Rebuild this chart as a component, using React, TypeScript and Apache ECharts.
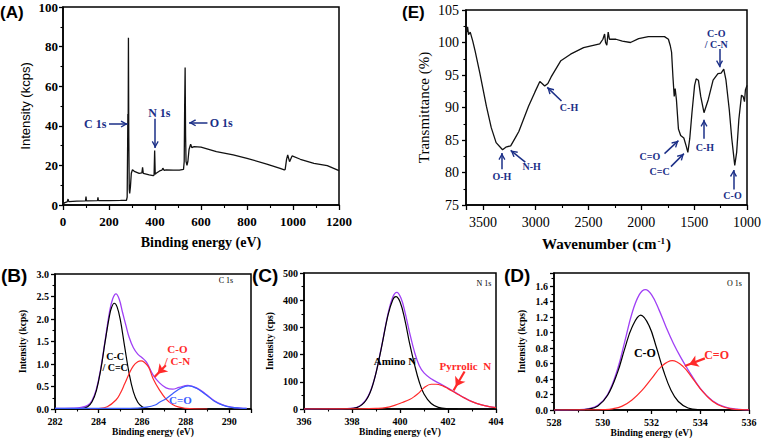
import React, { useEffect, useRef } from "react";
import * as echarts from "echarts";

// ---------- data ----------
// (A) XPS survey: [binding energy eV, intensity kcps]
const surveyXps: [number, number][] = [
  [0, 0.5], [8, 1.2], [18, 1.6], [22, 3], [25, 1.7], [60, 2], [98, 2.1], [100, 4.3], [102, 2.1],
  [150, 2.2], [152, 3.9], [154, 2.2], [200, 2.2], [250, 2.3], [276, 2.4], [279, 4], [281, 30],
  [282, 46], [283, 28], [284.5, 84.5], [286, 35], [288, 8], [290, 5.8], [293, 9], [297, 16],
  [302, 17.8], [310, 17], [331, 16], [343, 16.2], [346, 19], [349, 16], [375, 15.2], [392, 14.8],
  [396, 15.2], [398.5, 27.5], [401, 15.5], [405, 16], [420, 17.2], [430, 17.6], [434, 18.6],
  [440, 17.5], [448, 17.7], [480, 17.6], [506, 17.6], [524, 18], [527, 22], [529, 50], [531, 69.5],
  [533, 35], [535, 22], [539, 20], [543, 22], [548, 28], [555, 30.7], [560, 29], [570, 29.5],
  [600, 29.2], [667, 27], [740, 25.3], [800, 23.6], [886, 20.7], [944, 18.5], [962, 17.7],
  [966, 18], [972, 23], [977, 25.3], [985, 21.9], [996, 24.8], [1032, 23.1], [1091, 21],
  [1149, 19.9], [1200, 17.4],
];

// (E) FTIR: [wavenumber cm-1, transmittance %]
const ftir: [number, number][] = [
  [3660, 103], [3652, 101.6], [3645, 102.4], [3636, 101.2], [3620, 101.6], [3596, 100.2],
  [3574, 98.7], [3528, 95.2], [3467, 90.2], [3421, 86.9], [3375, 84.6], [3314, 83.5],
  [3283, 83.9], [3237, 84.1], [3191, 85.4], [3160, 86.3], [3068, 90.2], [3007, 92.4],
  [2961, 94], [2940, 93.7], [2915, 93.3], [2885, 93.7], [2854, 94.7], [2762, 97.2],
  [2670, 98.2], [2547, 99.2], [2394, 99.8], [2364, 100.5], [2348, 101.3], [2339, 100],
  [2327, 99.6], [2314, 101.6], [2302, 100.5], [2241, 100.5], [2180, 100.2], [2103, 100],
  [2026, 100.6], [1934, 100.9], [1781, 100.9], [1744, 100.5], [1726, 99.5], [1714, 98.5],
  [1701, 94.7], [1689, 91.7], [1680, 92.9], [1668, 91.2], [1649, 86.7], [1628, 85.7],
  [1598, 85.3], [1576, 84.1], [1560, 83.1], [1542, 85.2], [1521, 89.2], [1496, 93.4],
  [1481, 94.4], [1460, 94.2], [1438, 91.7], [1407, 89.2], [1367, 91.2], [1321, 94.2],
  [1275, 95.2], [1245, 95.3], [1220, 95.9], [1199, 94.2], [1168, 89.7], [1144, 85.2],
  [1116, 81.1], [1098, 83.1], [1077, 88.2], [1052, 91.9], [1037, 91.7], [1024, 90.9],
  [1015, 92.7], [1000, 93.4],
];

// (B) C 1s
const c1sEnvelope: [number, number][] = [
  [282, 0.015], [282.8, 0.02], [283.2, 0.035], [283.5, 0.08], [283.7, 0.19], [283.9, 0.44],
  [284.1, 0.9], [284.3, 1.52], [284.5, 2.15], [284.65, 2.45], [284.8, 2.56], [284.95, 2.44],
  [285.1, 2.15], [285.25, 1.87], [285.4, 1.6], [285.6, 1.36], [285.8, 1.22], [286.0, 1.14],
  [286.2, 1.04], [286.5, 0.76], [286.8, 0.58], [287.1, 0.47], [287.4, 0.44], [287.7, 0.48],
  [288.1, 0.525], [288.5, 0.47], [288.9, 0.34], [289.3, 0.19], [289.7, 0.09], [290.1, 0.04],
  [290.5, 0.02], [290.8, 0.015],
];
const c1sCC: [number, number][] = [
  [282, 0], [283.2, 0.006], [283.5, 0.05], [283.7, 0.16], [283.9, 0.41], [284.1, 0.87],
  [284.3, 1.49], [284.5, 2.07], [284.6, 2.26], [284.72, 2.35], [284.85, 2.27], [285.0, 1.98],
  [285.2, 1.38], [285.4, 0.8], [285.6, 0.38], [285.8, 0.15], [286.0, 0.05], [286.2, 0.012],
  [286.5, 0.002], [287, 0],
];
const c1sCO: [number, number][] = [
  [283.6, 0.002], [284.0, 0.01], [284.4, 0.05], [284.8, 0.2], [285.0, 0.35], [285.2, 0.56],
  [285.4, 0.78], [285.6, 0.96], [285.8, 1.05], [285.95, 1.07], [286.1, 1.04], [286.3, 0.93],
  [286.5, 0.68], [286.8, 0.42], [287.1, 0.22], [287.4, 0.1], [287.7, 0.04], [288.0, 0.015],
  [288.4, 0.003], [289, 0],
];
const c1sCdO: [number, number][] = [
  [282, 0.015], [285.0, 0.015], [285.8, 0.021], [286.2, 0.04], [286.6, 0.09], [286.8, 0.15],
  [287.1, 0.23], [287.4, 0.34], [287.8, 0.47], [288.13, 0.515], [288.5, 0.46], [288.9, 0.33],
  [289.3, 0.18], [289.7, 0.085], [290.1, 0.037], [290.5, 0.02], [290.8, 0.015],
];

// (C) N 1s
const n1sEnvelope: [number, number][] = [
  [396, 0], [397.2, 0.3], [397.8, 1.5], [398.2, 6], [398.6, 36], [398.9, 100], [399.2, 216],
  [399.5, 350], [399.7, 412], [399.87, 429], [400.05, 405], [400.2, 359], [400.4, 281],
  [400.6, 211], [400.8, 160], [401.0, 133], [401.3, 111], [401.6, 96], [401.9, 82],
  [402.3, 61], [402.7, 40], [403.0, 27], [403.4, 15], [403.7, 9], [404, 5],
];
const n1sAmino: [number, number][] = [
  [396, 0], [397.2, 0], [397.8, 0.5], [398.2, 5], [398.6, 34], [398.9, 99], [399.2, 214],
  [399.5, 345], [399.7, 402], [399.83, 413], [400.0, 394], [400.2, 329], [400.4, 241],
  [400.6, 165], [400.8, 100], [401.0, 55], [401.3, 20], [401.6, 6], [402.0, 1], [402.4, 0],
];
const n1sPyrrolic: [number, number][] = [
  [396, 0], [398.4, 0.5], [399.0, 2], [399.4, 5], [399.8, 14], [400.1, 24], [400.4, 35],
  [400.6, 46], [400.8, 60], [401.0, 78], [401.3, 91], [401.5, 91], [401.8, 84], [402.0, 75],
  [402.3, 60], [402.7, 40], [403.0, 27], [403.4, 15], [403.7, 9], [404, 5],
];

// (D) O 1s
const o1sEnvelope: [number, number][] = [
  [528, 0], [529, 0.003], [529.4, 0.015], [529.8, 0.06], [530.2, 0.2], [530.6, 0.52],
  [530.9, 0.88], [531.2, 1.25], [531.5, 1.49], [531.75, 1.555], [532.0, 1.49], [532.3, 1.3],
  [532.6, 1.07], [532.9, 0.86], [533.2, 0.68], [533.5, 0.52], [534.0, 0.28], [534.5, 0.12],
  [535.0, 0.04], [535.5, 0.01], [536, 0.002],
];
const o1sCO: [number, number][] = [
  [528, 0], [529, 0.002], [529.4, 0.011], [529.8, 0.052], [530.2, 0.19], [530.6, 0.48],
  [530.9, 0.79], [531.2, 1.07], [531.56, 1.226], [531.9, 1.09], [532.2, 0.81], [532.5, 0.5],
  [532.8, 0.255], [533.1, 0.11], [533.5, 0.026], [534.0, 0.003], [534.4, 0],
];
const o1sCdO: [number, number][] = [
  [528, 0], [529.6, 0.001], [530.0, 0.004], [530.4, 0.015], [530.8, 0.05], [531.2, 0.13],
  [531.6, 0.25], [532.0, 0.405], [532.4, 0.56], [532.85, 0.637], [533.3, 0.561],
  [533.7, 0.403], [534.1, 0.237], [534.5, 0.114], [534.9, 0.045], [535.3, 0.014],
  [535.7, 0.004], [536, 0.001],
];

// axis ranges / tick steps: [min, max, interval]
const axA_x = [0, 1200, 200];
const axA_y = [0, 100, 20];
const axE_x = [1000, 3660, 500];
const axE_y = [75, 105, 5];
const axB_x = [282, 291, 2];
const axB_y = [0, 3, 0.5];
const axC_x = [396, 404, 2];
const axC_y = [0, 500, 100];
const axD_x = [528, 536, 2];
const axD_y = [0, 1.77, 0.2];

// ---------- styling ----------
const SERIF = "Liberation Serif";
const SANS = "Liberation Sans";
const NAVY = "#1b2f87";
const PURPLE = "#a040f5";
const RED = "#ff2a2a";
const BLUE = "#3a5cff";
const OPEN_HEAD = "path://M0,0L5,8.5L3.4,9.6L0,3.6L-3.4,9.6L-5,8.5Z";

const plain = (v: number) => String(v);
const fmt1 = (v: number) => v.toFixed(1);

function xAxis(gi: number, r: number[], o: any = {}) {
  return {
    type: "value", gridIndex: gi, min: r[0], max: r[1], interval: r[2],
    inverse: !!o.inverse,
    name: o.name, nameLocation: "middle", nameGap: o.nameGap,
    nameTextStyle: o.nameStyle,
    axisLine: { show: true, onZero: false, lineStyle: { color: "#000", width: 1.5 } },
    axisTick: { show: true, inside: false, length: o.tick ?? 5, lineStyle: { color: "#000", width: 1.3 } },
    minorTick: { show: true, splitNumber: 2, length: o.minor ?? 3, lineStyle: { color: "#000", width: 1.1 } },
    splitLine: { show: false }, minorSplitLine: { show: false },
    axisLabel: {
      color: "#000", fontFamily: SERIF, fontSize: o.fs, fontWeight: o.fw ?? "bold",
      margin: o.margin, showMaxLabel: o.showMax, formatter: o.fmt ?? plain,
    },
  };
}
function yAxis(gi: number, r: number[], o: any = {}) {
  return {
    type: "value", gridIndex: gi, min: r[0], max: r[1], interval: r[2],
    name: o.name, nameLocation: "middle", nameGap: o.nameGap, nameRotate: 90,
    nameTextStyle: o.nameStyle,
    axisLine: { show: true, onZero: false, lineStyle: { color: "#000", width: 1.5 } },
    axisTick: { show: true, inside: false, length: o.tick ?? 4, lineStyle: { color: "#000", width: 1.3 } },
    minorTick: { show: true, splitNumber: 2, length: o.minor ?? 2.5, lineStyle: { color: "#000", width: 1.1 } },
    splitLine: { show: false }, minorSplitLine: { show: false },
    axisLabel: {
      color: "#000", fontFamily: SERIF, fontSize: o.fs, fontWeight: o.fw ?? "bold",
      margin: o.margin, showMaxLabel: o.showMax, formatter: o.fmt ?? plain,
    },
  };
}

function note(x: number, y: number, text: string, color: string, size: number, weight = "bold", family = SERIF) {
  return {
    coord: [x, y], symbol: "circle", symbolSize: 0, itemStyle: { color: "transparent" },
    label: {
      show: true, position: "inside", formatter: text, color, fontSize: size,
      fontWeight: weight, fontFamily: family, lineHeight: size + 1,
    },
  };
}
function arrow(x1: number, y1: number, x2: number, y2: number, color: string, width = 1.5, head = OPEN_HEAD, size = 7) {
  const ls = { color, width, type: "solid" };
  return [
    { coord: [x1, y1], symbol: "none", lineStyle: ls },
    { coord: [x2, y2], symbol: head, symbolSize: [size, size], symbolOffset: [0, size / 2], lineStyle: ls },
  ];
}

function line(data: [number, number][], ai: number, color: string, width: number, extra: any = {}) {
  return {
    type: "line", data, xAxisIndex: ai, yAxisIndex: ai, symbol: "none", showSymbol: false,
    smooth: extra.smooth ?? false, silent: true, animation: false,
    lineStyle: { color, width }, itemStyle: { color },
    markPoint: extra.notes ? { silent: true, animation: false, data: extra.notes } : undefined,
    markLine: extra.arrows
      ? { silent: true, animation: false, symbol: ["none", "arrow"], label: { show: false }, emphasis: { disabled: true }, data: extra.arrows }
      : undefined,
  };
}

export default function App() {
  const ref = useRef<HTMLDivElement>(null);
  useEffect(() => {
    if (!ref.current) return;
    const chart = echarts.init(ref.current, undefined, { renderer: "svg" });
    const gridStyle = { show: true, borderColor: "#000", borderWidth: 1.5, backgroundColor: "transparent", containLabel: false };
    const smallTitle = { fontFamily: SERIF, fontSize: 9.5, fontWeight: "bold", color: "#000" };
    chart.setOption({
      animation: false,
      backgroundColor: "#fff",
      textStyle: { fontFamily: SERIF },
      grid: [
        { left: 63, top: 7, width: 276, height: 198, ...gridStyle },
        { left: 466, top: 10, width: 281, height: 195, ...gridStyle },
        { left: 55, top: 274, width: 196, height: 135, ...gridStyle },
        { left: 304, top: 273, width: 192, height: 136, ...gridStyle },
        { left: 554, top: 273, width: 195, height: 137, ...gridStyle },
      ],
      xAxis: [
        xAxis(0, axA_x, { fs: 13, margin: 10, name: "Binding energy (eV)", nameGap: 30, nameStyle: { fontFamily: SERIF, fontSize: 14, fontWeight: "bold", color: "#000" } }),
        xAxis(1, axE_x, {
          inverse: true, fs: 14, fw: "normal", margin: 10, showMax: false,
          name: "Wavenumber (cm{sup|-1})", nameGap: 31,
          nameStyle: { fontFamily: SERIF, fontSize: 15, fontWeight: "bold", color: "#000", rich: { sup: { fontFamily: SERIF, fontSize: 9, fontWeight: "bold", verticalAlign: "top", padding: [0, 1, 7, 1] } } },
        }),
        xAxis(2, axB_x, { fs: 10, margin: 7, showMax: false, tick: 4, minor: 2.5, name: "Binding energy (eV)", nameGap: 18, nameStyle: smallTitle }),
        xAxis(3, axC_x, { fs: 10, margin: 7, tick: 4, minor: 2.5, name: "Binding energy (eV)", nameGap: 18, nameStyle: smallTitle }),
        xAxis(4, axD_x, { fs: 10, margin: 7, tick: 4, minor: 2.5, name: "Binding energy (eV)", nameGap: 18, nameStyle: smallTitle }),
      ],
      yAxis: [
        yAxis(0, axA_y, { fs: 13, margin: 5, name: "Intensity (kcps)", nameGap: 31, nameStyle: { fontFamily: SANS, fontSize: 13, color: "#000" } }),
        yAxis(1, axE_y, { fs: 14, fw: "normal", margin: 7, name: "Transmittance (%)", nameGap: 35, nameStyle: { fontFamily: SERIF, fontSize: 15, color: "#000" } }),
        yAxis(2, axB_y, { fs: 10, margin: 6, fmt: fmt1, name: "Intensity (kcps)", nameGap: 27, nameStyle: smallTitle }),
        yAxis(3, axC_y, { fs: 10, margin: 6, name: "Intensity (cps)", nameGap: 29, nameStyle: smallTitle }),
        yAxis(4, axD_y, { fs: 10, margin: 6, fmt: fmt1, showMax: false, name: "Intensity (kcps)", nameGap: 27, nameStyle: smallTitle }),
      ],
      graphic: [
        { type: "text", left: 0, top: 4, style: { text: "(A)", fontFamily: SANS, fontSize: 17, fontWeight: "bold", fill: "#000" } },
        { type: "text", left: 402, top: 4, style: { text: "(E)", fontFamily: SANS, fontSize: 17, fontWeight: "bold", fill: "#000" } },
        { type: "text", left: 1, top: 266, style: { text: "(B)", fontFamily: SANS, fontSize: 19, fontWeight: "bold", fill: "#000" } },
        { type: "text", left: 252, top: 266, style: { text: "(C)", fontFamily: SANS, fontSize: 19, fontWeight: "bold", fill: "#000" } },
        { type: "text", left: 504, top: 266, style: { text: "(D)", fontFamily: SANS, fontSize: 19, fontWeight: "bold", fill: "#000" } },
      ],
      series: [
        line(surveyXps, 0, "#111", 1.3, {
          notes: [
            note(140, 40.9, "C 1s", NAVY, 12),
            note(419, 46.5, "N 1s", NAVY, 12),
            note(688, 41.5, "O 1s", NAVY, 12),
          ],
          arrows: [
            arrow(200, 40.9, 281, 40.9, NAVY),
            arrow(401, 43.5, 401, 28.8, NAVY),
            arrow(628, 41.5, 548, 41.5, NAVY),
          ],
        }),
        line(ftir, 1, "#111", 1.3, {
          notes: [
            note(3320, 79.4, "O-H", NAVY, 10),
            note(3038, 80.9, "N-H", NAVY, 10),
            note(2685, 90.0, "C-H", NAVY, 10),
            note(1919, 82.5, "C=O", NAVY, 10),
            note(1827, 80.1, "C=C", NAVY, 10),
            note(1398, 83.9, "C-H", NAVY, 10),
            note(1137, 76.4, "C-O", NAVY, 10),
            note(1291, 100.6, "C-O\n/ C-N", NAVY, 10),
          ],
          arrows: [
            arrow(3320, 80.5, 3320, 83.0, NAVY),
            arrow(3099, 81.6, 3237, 83.4, NAVY),
            arrow(2756, 91.0, 2891, 93.1, NAVY),
            arrow(1781, 82.9, 1649, 84.9, NAVY),
            arrow(1720, 80.9, 1597, 82.9, NAVY),
            arrow(1407, 85.2, 1407, 88.1, NAVY),
            arrow(1128, 77.4, 1128, 80.4, NAVY),
            arrow(1260, 99.0, 1260, 96.2, NAVY),
          ],
        }),
        line(c1sEnvelope, 2, PURPLE, 1.3, {
          smooth: 0.4,
          notes: [
            note(284.76, 1.05, "C-C\n/ C=C", "#000", 10),
            note(287.62, 1.21, "C-O\n/ C-N", RED, 11),
            note(287.76, 0.21, "C=O", BLUE, 11),
            note(289.85, 2.86, "C 1s", "#000", 8, "normal"),
          ],
          arrows: [arrow(287.09, 0.97, 286.57, 0.71, RED, 2.2, "arrow", 9)],
        }),
        line(c1sCC, 2, "#000", 1.2, { smooth: 0.4 }),
        line(c1sCO, 2, RED, 1.2, { smooth: 0.4 }),
        line(c1sCdO, 2, BLUE, 1.2, { smooth: 0.4 }),
        line(n1sEnvelope, 3, PURPLE, 1.3, {
          smooth: 0.4,
          notes: [
            note(399.79, 178, "Amino N", "#000", 11),
            note(402.72, 158, "Pyrrolic  N", RED, 11),
            note(403.5, 463, "N 1s", "#000", 8, "normal"),
          ],
          arrows: [arrow(402.69, 138, 402.23, 68, RED, 2.2, "arrow", 9)],
        }),
        line(n1sAmino, 3, "#000", 1.2, { smooth: 0.4 }),
        line(n1sPyrrolic, 3, RED, 1.2, { smooth: 0.4 }),
        line(o1sEnvelope, 4, PURPLE, 1.3, {
          smooth: 0.4,
          notes: [
            note(531.73, 0.74, "C-O", "#000", 12),
            note(534.67, 0.71, "C=O", RED, 12),
            note(535.4, 1.63, "O 1s", "#000", 8, "normal"),
          ],
          arrows: [arrow(534.19, 0.667, 533.37, 0.568, RED, 2.2, "arrow", 9)],
        }),
        line(o1sCO, 4, "#000", 1.2, { smooth: 0.4 }),
        line(o1sCdO, 4, RED, 1.2, { smooth: 0.4 }),
      ],
    });
    return () => chart.dispose();
  }, []);
  return <div ref={ref} style={{ position: "absolute", left: 0, top: 0, width: 765, height: 444 }} />;
}
